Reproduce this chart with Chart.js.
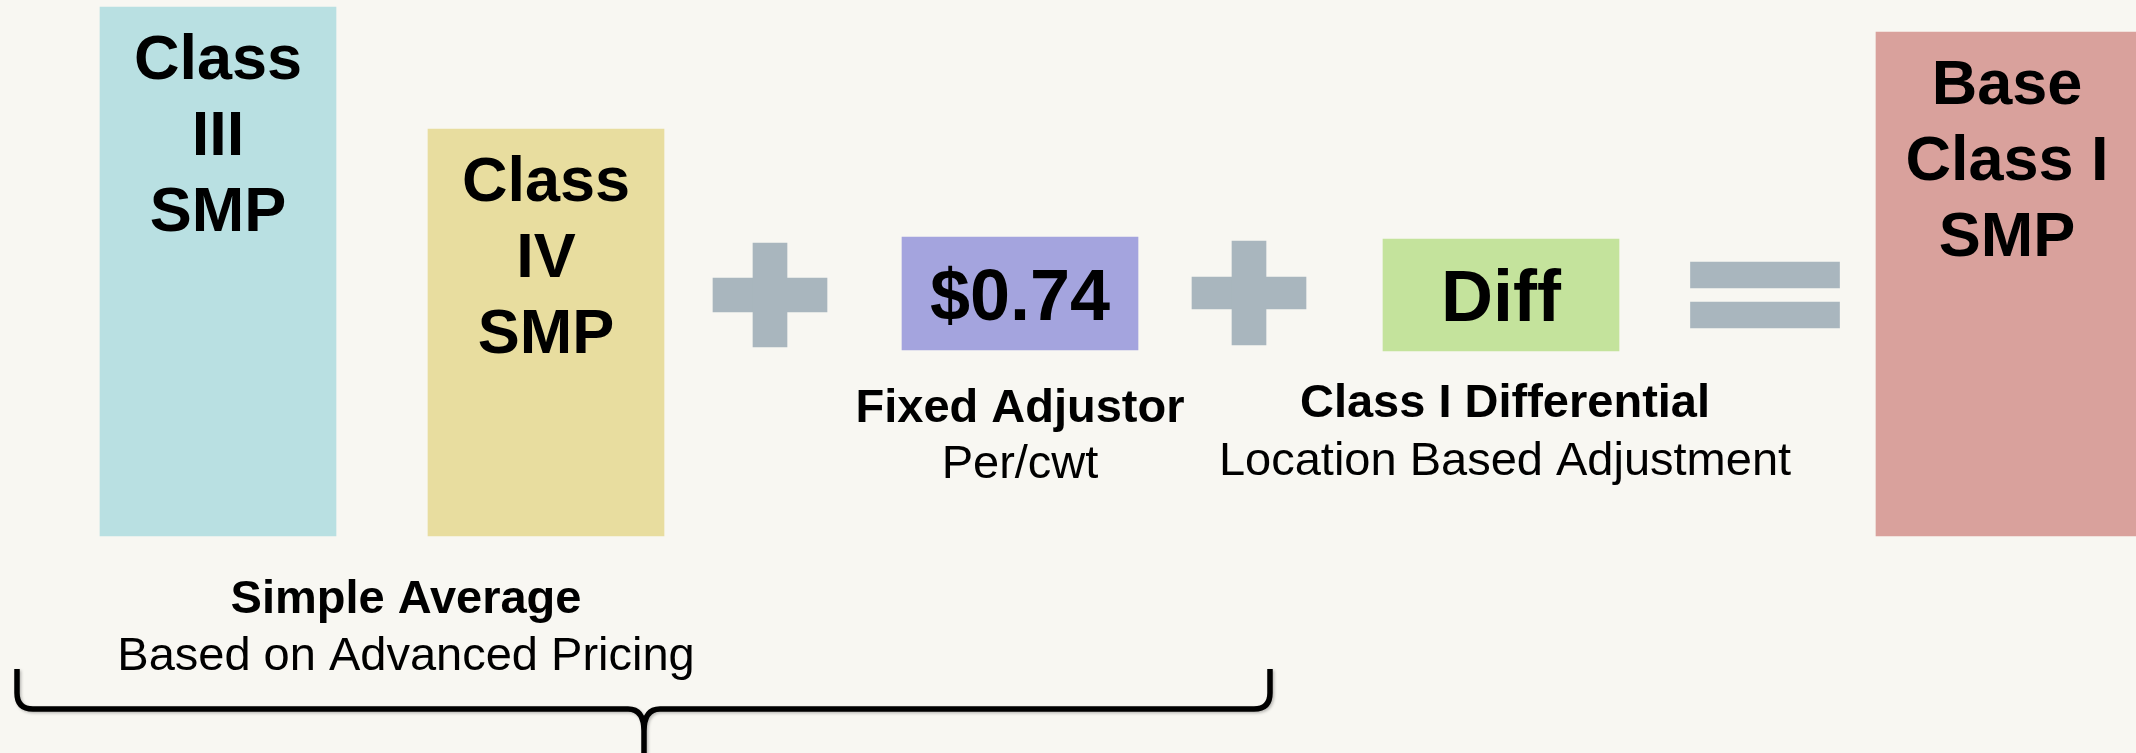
<!DOCTYPE html>
<html>
<head>
<meta charset="utf-8">
<script src="https://cdn.jsdelivr.net/npm/chart.js@4/dist/chart.umd.min.js"></script>
<style>
  html, body { margin: 0; padding: 0; background: #f8f7f2; overflow: hidden; }
  #wrap { width: 2136px; height: 753px; position: relative; }
  canvas { display: block; }
</style>
</head>
<body>
<div id="wrap"><canvas id="c" width="2136" height="753"></canvas></div>
<script>
// ---- data (diagram units: x along the equation, y = level from bottom) ----
const boxLines  = [["Class", "III", "SMP"], ["Class", "IV", "SMP"], ["$0.74"], ["Diff"]];
const boxX      = [218, 546, 1020, 1501];
const boxLow    = [217, 217, 403, 402];
const boxHigh   = [746, 624, 516, 514];

const resultLines = [["Base", "Class I", "SMP"]];
const resultX     = [2007];
const resultLow   = [217];
const resultHigh  = [721];

const plusX      = [770, 1249];
const plusVLow   = [406, 408];
const plusVHigh  = [510, 512];
const plusHLow   = [441, 444];
const plusHHigh  = [475, 476];

const equalsX       = [1765];
const equalsTopLow  = [465];
const equalsTopHigh = [491];
const equalsBotLow  = [425];
const equalsBotHigh = [451];

const captionTitles = ["Simple Average", "Fixed Adjustor", "Class I Differential"];
const captionNotes  = ["Based on Advanced Pricing", "Per/cwt", "Location Based Adjustment"];
const captionX      = [406, 1020, 1505];
const captionTitleY = [140, 331, 336];
const captionNoteY  = [83, 275, 278];

// ---- styles ----
const boxColors   = ['#b9e0e2', '#e8dd9f', '#a4a4de', '#c4e39c'];
const resultColor = '#d9a19c';
const opColor     = '#a9b6be';
const FONT = '"Liberation Sans", Arial, Helvetica, sans-serif';

const pts = (xs, lo, hi) => xs.map((x, i) => ({ x: x, y: [lo[i], hi[i]] }));

const labelPlugin = {
  id: 'labels',
  beforeDraw(chart) {
    const ctx = chart.ctx;
    ctx.save();
    ctx.fillStyle = '#f8f7f2';
    ctx.fillRect(0, 0, chart.width, chart.height);
    ctx.restore();
  },
  afterDatasetsDraw(chart) {
    const ctx = chart.ctx;
    const xs = chart.scales.x, ys = chart.scales.y;
    ctx.save();
    ctx.fillStyle = '#000';
    ctx.textAlign = 'center';
    ctx.textBaseline = 'alphabetic';

    const drawBoxText = (bar, lines) => {
      if (lines.length === 1) {
        ctx.font = 'bold 72px ' + FONT;
        const mid = (bar.y + bar.base) / 2;
        ctx.fillText(lines[0], bar.x, mid + 26);
      } else {
        ctx.font = 'bold 63px ' + FONT;
        lines.forEach((t, k) => ctx.fillText(t, bar.x, bar.y + 72 + k * 76));
      }
    };
    chart.getDatasetMeta(0).data.forEach((bar, i) => drawBoxText(bar, boxLines[i]));
    chart.getDatasetMeta(1).data.forEach((bar, i) => drawBoxText(bar, resultLines[i]));

    // captions
    captionTitles.forEach((t, i) => {
      const px = xs.getPixelForValue(captionX[i]);
      ctx.font = 'bold 47px ' + FONT;
      ctx.fillText(t, px, ys.getPixelForValue(captionTitleY[i]));
      ctx.font = '47px ' + FONT;
      ctx.fillText(captionNotes[i], px, ys.getPixelForValue(captionNoteY[i]));
    });

    // curly brace under the averaged part
    const X = v => xs.getPixelForValue(v), Y = v => ys.getPixelForValue(v);
    const L = X(17), R = X(1270), T = X(644);
    const top = Y(84), line = Y(44), bottom = Y(-10);
    ctx.strokeStyle = '#000';
    ctx.lineWidth = 5.5;
    ctx.lineCap = 'butt';
    ctx.lineJoin = 'round';
    ctx.shadowColor = 'rgba(0,0,0,0.25)';
    ctx.shadowBlur = 3;
    ctx.shadowOffsetX = 1.5;
    ctx.shadowOffsetY = 1.5;
    ctx.beginPath();
    ctx.moveTo(L, top);
    ctx.lineTo(L, line - 16);
    ctx.quadraticCurveTo(L, line, L + 16, line);
    ctx.lineTo(T - 16, line);
    ctx.quadraticCurveTo(T, line, T, line + 22);
    ctx.lineTo(T, bottom);
    ctx.moveTo(R, top);
    ctx.lineTo(R, line - 16);
    ctx.quadraticCurveTo(R, line, R - 16, line);
    ctx.lineTo(T + 16, line);
    ctx.quadraticCurveTo(T, line, T, line + 22);
    ctx.stroke();
    ctx.restore();
  }
};

const common = { grouped: true, borderWidth: 0, borderSkipped: false };

new Chart(document.getElementById('c'), {
  type: 'bar',
  data: {
    datasets: [
      Object.assign({ label: 'Components', data: pts(boxX, boxLow, boxHigh), backgroundColor: boxColors, barThickness: 236 }, common),
      Object.assign({ label: 'Result', data: pts(resultX, resultLow, resultHigh), backgroundColor: resultColor, barThickness: 262 }, common),
      Object.assign({ label: 'Plus vertical', data: pts(plusX, plusVLow, plusVHigh), backgroundColor: opColor, barThickness: 34 }, common),
      Object.assign({ label: 'Plus horizontal', data: pts(plusX, plusHLow, plusHHigh), backgroundColor: opColor, barThickness: 114 }, common),
      Object.assign({ label: 'Equals top', data: pts(equalsX, equalsTopLow, equalsTopHigh), backgroundColor: opColor, barThickness: 149 }, common),
      Object.assign({ label: 'Equals bottom', data: pts(equalsX, equalsBotLow, equalsBotHigh), backgroundColor: opColor, barThickness: 149 }, common)
    ]
  },
  options: {
    responsive: false,
    animation: false,
    devicePixelRatio: 1,
    events: [],
    layout: { padding: 0 },
    plugins: { legend: { display: false }, tooltip: { enabled: false } },
    scales: {
      x: { type: 'linear', min: 0, max: 2136, offset: false, stacked: true, display: false },
      y: { type: 'linear', min: 0, max: 753, stacked: false, display: false }
    }
  },
  plugins: [labelPlugin]
});
</script>
</body>
</html>
